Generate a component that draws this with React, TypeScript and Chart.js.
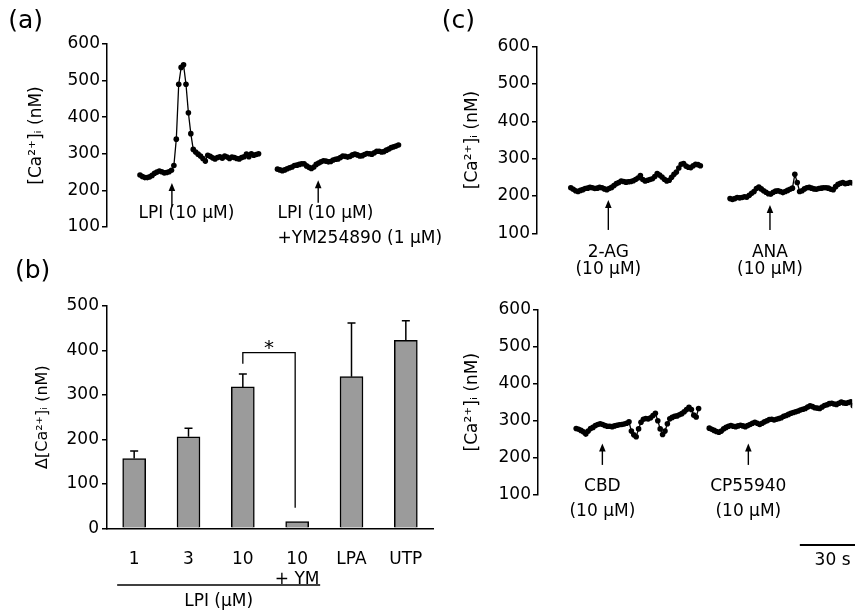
import React, { useEffect, useRef } from "react";
import { Chart, registerables } from "chart.js";

Chart.register(...registerables);

const FONT = '"DejaVu Sans", "Noto Sans", sans-serif';
const CANVAS_W = 855;
const CANVAS_H = 611;
const INK = "#000";
const BAR_FILL = "#9b9b9b";

// ---------------- data ----------------
const SAMPLE_INTERVAL_S = 1.1;
const SCALE_BAR_S = 30;
const CA_MIN = 100;
const CA_MAX = 600;
const CA_STEP = 100;
const CA_TITLE = "[Ca²⁺]ᵢ (nM)";

// (a) traces
const A_LPI_START_S = 15;
const A_LPI = [242, 238, 235, 235, 237, 241, 247, 250, 253, 251, 248, 249, 251, 255, 268, 340, 490, 536, 543, 490, 412, 355, 312, 305, 299, 294, 287, 280, 296, 293, 289, 286, 290, 292, 288, 294, 291, 287, 291, 290, 287, 286, 290, 292, 299, 292, 300, 296, 298, 300];
const A_LPI_YM_START_S = 77.5;
const A_LPI_YM = [258, 256, 254, 256, 259, 262, 264, 268, 269, 271, 273, 273, 267, 263, 260, 264, 271, 275, 278, 281, 280, 278, 279, 283, 285, 286, 290, 294, 293, 291, 293, 297, 299, 297, 294, 295, 298, 301, 300, 299, 303, 307, 307, 305, 306, 310, 313, 317, 319, 321, 324];

// (c) traces
const C_2AG_START_S = 15.5;
const C_2AG = [222, 218, 214, 212, 215, 217, 220, 221, 223, 222, 220, 221, 223, 222, 219, 217, 220, 223, 228, 233, 236, 240, 239, 237, 238, 239, 241, 244, 248, 255, 244, 240, 242, 244, 246, 252, 260, 256, 251, 245, 240, 242, 250, 258, 264, 275, 285, 287, 280, 277, 276, 281, 285, 284, 281];
const C_ANA_START_S = 88.5;
const C_ANA = [193, 191, 193, 196, 195, 196, 198, 197, 202, 207, 212, 220, 224, 219, 214, 210, 206, 205, 210, 213, 214, 212, 209, 212, 215, 218, 221, 258, 236, 212, 214, 219, 222, 223, 221, 219, 218, 220, 221, 222, 222, 221, 218, 217, 225, 231, 234, 236, 233, 234, 236, 235];
const C_CBD_START_S = 17.5;
const C_CBD = [279, 277, 274, 270, 264, 272, 279, 282, 287, 290, 292, 290, 287, 285, 285, 284, 286, 288, 289, 290, 291, 293, 297, 272, 262, 257, 278, 296, 304, 306, 305, 308, 314, 320, 300, 278, 263, 272, 292, 305, 309, 312, 313, 316, 319, 324, 330, 336, 330, 315, 310, 333];
const C_CP_START_S = 78.5;
const C_CP = [280, 277, 274, 271, 269, 272, 278, 282, 285, 287, 285, 284, 286, 288, 286, 284, 287, 290, 293, 296, 293, 290, 293, 297, 300, 303, 304, 302, 304, 306, 308, 312, 314, 317, 320, 322, 324, 326, 329, 331, 333, 337, 340, 338, 335, 334, 333, 337, 341, 343, 346, 347, 345, 344, 347, 350, 348, 347, 349, 351, 340];

// (b) bars
const B_LABELS: (string | string[])[] = ["1", "3", "10", ["10", "+ YM"], "LPA", "UTP"];
const B_MEAN = [157, 206, 318, 15, 341, 423];
const B_SEM = [17, 19, 29, 0, 121, 44];
const B_MIN = 0;
const B_MAX = 500;
const B_STEP = 50;
const B_BRACKET = { from: 2, to: 3, leftLow: 370, top: 395, rightLow: 46 };

// ---------------- helpers ----------------
type Area = { left: number; top: number; right: number; bottom: number };
type ArrowSpec = { t: number; tip: number; base: number };
type LabelSpec = { t: number; align: CanvasTextAlign; lines: string[]; dy: number[] };

function series(values: number[], start: number) {
  return values.map((v, i) => ({ x: start + i * SAMPLE_INTERVAL_S, y: v }));
}

function drawText(ctx: CanvasRenderingContext2D, s: string, x: number, y: number, size: number, align: CanvasTextAlign = "center", baseline: CanvasTextBaseline = "middle") {
  ctx.font = `${size}px ${FONT}`;
  ctx.textAlign = align;
  ctx.textBaseline = baseline;
  ctx.fillStyle = INK;
  ctx.fillText(s, x, y);
}

function drawArrow(ctx: CanvasRenderingContext2D, x: number, yTip: number, yBase: number) {
  ctx.strokeStyle = INK;
  ctx.fillStyle = INK;
  ctx.lineWidth = 1.4;
  ctx.beginPath();
  ctx.moveTo(x, yBase);
  ctx.lineTo(x, yTip + 5);
  ctx.stroke();
  ctx.beginPath();
  ctx.moveTo(x, yTip);
  ctx.lineTo(x - 3.3, yTip + 8);
  ctx.lineTo(x + 3.3, yTip + 8);
  ctx.closePath();
  ctx.fill();
}

function caAxis(axisBox: number, titlePad: number) {
  return {
    type: "linear",
    min: CA_MIN,
    max: CA_MAX,
    ticks: { stepSize: CA_STEP, color: INK, padding: 2, font: { family: FONT, size: 17 } },
    grid: { display: true, drawOnChartArea: false, drawTicks: true, tickLength: 5, color: INK, lineWidth: 1.5 },
    border: { display: true, color: INK, width: 1.5 },
    title: { display: true, text: CA_TITLE, color: INK, font: { family: FONT, size: 17 }, padding: { top: titlePad, bottom: 0 } },
    afterFit: (s: any) => {
      s.width = axisBox;
    },
  };
}

function traceConfig(opts: {
  area: Area;
  axisBox: number;
  titlePad: number;
  xMax: number;
  traces: { values: number[]; start: number }[];
  arrows: ArrowSpec[];
  labels: LabelSpec[];
  extra?: (chart: any, ctx: CanvasRenderingContext2D) => void;
}): any {
  const { area } = opts;
  return {
    type: "line",
    data: {
      datasets: opts.traces.map((tr) => ({
        data: series(tr.values, tr.start),
        borderColor: INK,
        borderWidth: 1.3,
        pointRadius: 2.8,
        pointBackgroundColor: INK,
        pointBorderWidth: 0,
        pointHoverRadius: 0,
        tension: 0,
        fill: false,
      })),
    },
    options: {
      responsive: false,
      animation: false,
      devicePixelRatio: 1,
      events: [],
      layout: { padding: { left: area.left - opts.axisBox, top: area.top, right: CANVAS_W - area.right, bottom: CANVAS_H - area.bottom } },
      plugins: { legend: { display: false }, tooltip: { enabled: false } },
      scales: {
        x: { type: "linear", min: 0, max: opts.xMax, display: false },
        y: caAxis(opts.axisBox, opts.titlePad),
      },
    },
    plugins: [
      {
        id: "traceExtras",
        afterDraw(chart: any) {
          const ctx: CanvasRenderingContext2D = chart.ctx;
          const xs = chart.scales.x;
          const ys = chart.scales.y;
          const bottom = chart.chartArea.bottom;
          ctx.save();
          opts.arrows.forEach((a) => drawArrow(ctx, xs.getPixelForValue(a.t), ys.getPixelForValue(a.tip), ys.getPixelForValue(a.base)));
          opts.labels.forEach((l) => {
            const x = xs.getPixelForValue(l.t);
            l.lines.forEach((line, i) => drawText(ctx, line, x, bottom + l.dy[i], 17, l.align));
          });
          if (opts.extra) opts.extra(chart, ctx);
          ctx.restore();
        },
      },
    ],
  };
}

function barConfig(): any {
  const area: Area = { left: 107, top: 306, right: 433, bottom: 528.3 };
  const axisBox = 90;
  const xBox = 60;
  return {
    type: "bar",
    data: {
      labels: B_LABELS,
      datasets: [
        {
          data: B_MEAN,
          backgroundColor: BAR_FILL,
          borderColor: INK,
          borderWidth: 1.5,
          barThickness: 23,
        },
      ],
    },
    options: {
      responsive: false,
      animation: false,
      devicePixelRatio: 1,
      events: [],
      layout: { padding: { left: area.left - axisBox, top: area.top, right: CANVAS_W - area.right, bottom: CANVAS_H - area.bottom - xBox } },
      plugins: { legend: { display: false }, tooltip: { enabled: false } },
      scales: {
        x: {
          type: "category",
          grid: { display: false },
          border: { display: true, color: INK, width: 1.5 },
          ticks: { color: INK, padding: 13, font: { family: FONT, size: 17 } },
          afterFit: (s: any) => {
            s.height = xBox;
          },
        },
        y: {
          type: "linear",
          min: B_MIN,
          max: B_MAX,
          ticks: {
            stepSize: B_STEP,
            color: INK,
            padding: 3,
            font: { family: FONT, size: 17 },
            callback: (v: number) => (v % 100 === 0 ? String(v) : ""),
          },
          grid: { display: true, drawOnChartArea: false, drawTicks: true, tickLength: 5, color: INK, lineWidth: 1.5 },
          border: { display: true, color: INK, width: 1.5 },
          title: { display: true, text: "Δ" + CA_TITLE, color: INK, font: { family: FONT, size: 16 }, padding: { top: 16.4, bottom: 0 } },
          afterFit: (s: any) => {
            s.width = axisBox;
          },
        },
      },
    },
    plugins: [
      {
        id: "barExtras",
        afterDraw(chart: any) {
          const ctx: CanvasRenderingContext2D = chart.ctx;
          const xs = chart.scales.x;
          const ys = chart.scales.y;
          ctx.save();
          ctx.strokeStyle = INK;
          ctx.lineWidth = 1.5;
          // error bars
          B_MEAN.forEach((m, i) => {
            const s = B_SEM[i];
            if (!s) return;
            const x = xs.getPixelForValue(i);
            const y0 = ys.getPixelForValue(m);
            const y1 = ys.getPixelForValue(m + s);
            ctx.beginPath();
            ctx.moveTo(x, y0);
            ctx.lineTo(x, y1);
            ctx.moveTo(x - 4, y1);
            ctx.lineTo(x + 4, y1);
            ctx.stroke();
          });
          // significance bracket
          const bx1 = xs.getPixelForValue(B_BRACKET.from);
          const bx2 = xs.getPixelForValue(B_BRACKET.to) - 2;
          const byTop = ys.getPixelForValue(B_BRACKET.top);
          ctx.lineWidth = 1.3;
          ctx.beginPath();
          ctx.moveTo(bx1, ys.getPixelForValue(B_BRACKET.leftLow));
          ctx.lineTo(bx1, byTop);
          ctx.lineTo(bx2, byTop);
          ctx.lineTo(bx2, ys.getPixelForValue(B_BRACKET.rightLow));
          ctx.stroke();
          drawText(ctx, "*", (bx1 + bx2) / 2, byTop + 1, 20, "center", "alphabetic");
          // group underline
          const gx1 = xs.getPixelForValue(0) - 17;
          const gx2 = xs.getPixelForValue(3) + 23;
          const gy = chart.chartArea.bottom + 56.7;
          ctx.lineWidth = 1.3;
          ctx.beginPath();
          ctx.moveTo(gx1, gy);
          ctx.lineTo(gx2, gy);
          ctx.stroke();
          drawText(ctx, "LPI (μM)", (gx1 + gx2) / 2, gy + 17, 17);
          drawText(ctx, "(b)", 15, 271.5, 25, "left");
          ctx.restore();
        },
      },
    ],
  };
}

export default function App() {
  const refA = useRef<HTMLCanvasElement>(null);
  const refB = useRef<HTMLCanvasElement>(null);
  const refC1 = useRef<HTMLCanvasElement>(null);
  const refC2 = useRef<HTMLCanvasElement>(null);

  useEffect(() => {
    const charts: Chart[] = [];
    if (refA.current) {
      charts.push(
        new Chart(
          refA.current,
          traceConfig({
            area: { left: 107, top: 44, right: 107 + 136 * 2.2, bottom: 227 },
            axisBox: 90,
            titlePad: 9.8,
            xMax: 136,
            traces: [
              { values: A_LPI, start: A_LPI_START_S },
              { values: A_LPI_YM, start: A_LPI_YM_START_S },
            ],
            arrows: [
              { t: 29.5, tip: 220, base: 155 },
              { t: 96, tip: 228, base: 166 },
            ],
            labels: [
              { t: 36.1, align: "center", lines: ["LPI (10 μM)"], dy: [-13.5] },
              { t: A_LPI_YM_START_S, align: "left", lines: ["LPI (10 μM)", "+YM254890 (1 μM)"], dy: [-13.5, 11.5] },
            ],
            extra: (_c, ctx) => {
              drawText(ctx, "(a)", 8.3, 21.5, 25, "left");
            },
          })
        )
      );
    }
    if (refB.current) charts.push(new Chart(refB.current, barConfig()));
    if (refC1.current) {
      charts.push(
        new Chart(
          refC1.current,
          traceConfig({
            area: { left: 537, top: 46.7, right: 537 + 144.5 * 2.2, bottom: 233.3 },
            axisBox: 90,
            titlePad: 15.3,
            xMax: 144.5,
            traces: [
              { values: C_2AG, start: C_2AG_START_S },
              { values: C_ANA, start: C_ANA_START_S },
            ],
            arrows: [
              { t: 32.7, tip: 189, base: 109 },
              { t: 106.8, tip: 176, base: 109 },
            ],
            labels: [
              { t: 32.7, align: "center", lines: ["2-AG", "(10 μM)"], dy: [18.9, 36.2] },
              { t: 106.8, align: "center", lines: ["ANA", "(10 μM)"], dy: [18.9, 36.2] },
            ],
            extra: (_c, ctx) => {
              drawText(ctx, "(c)", 441.7, 21.5, 25, "left");
            },
          })
        )
      );
    }
    if (refC2.current) {
      charts.push(
        new Chart(
          refC2.current,
          traceConfig({
            area: { left: 538, top: 309.3, right: 538 + 144 * 2.2, bottom: 495 },
            axisBox: 90,
            titlePad: 14.3,
            xMax: 144,
            traces: [
              { values: C_CBD, start: C_CBD_START_S },
              { values: C_CP, start: C_CP_START_S },
            ],
            arrows: [
              { t: 29.5, tip: 239, base: 181 },
              { t: 96.4, tip: 239, base: 181 },
            ],
            labels: [
              { t: 29.5, align: "center", lines: ["CBD", "(10 μM)"], dy: [-8.5, 16.5] },
              { t: 96.4, align: "center", lines: ["CP55940", "(10 μM)"], dy: [-8.5, 16.5] },
            ],
            extra: (chart, ctx) => {
              const xs = chart.scales.x;
              const y = chart.chartArea.bottom + 50;
              const x1 = xs.getPixelForValue(120);
              const x2 = xs.getPixelForValue(120 + SCALE_BAR_S);
              ctx.strokeStyle = INK;
              ctx.lineWidth = 2;
              ctx.beginPath();
              ctx.moveTo(x1, y);
              ctx.lineTo(x2, y);
              ctx.stroke();
              drawText(ctx, "30 s", (x1 + x2) / 2, y + 15.5, 17);
            },
          })
        )
      );
    }
    return () => charts.forEach((c) => c.destroy());
  }, []);

  const cs: React.CSSProperties = { position: "absolute", left: 0, top: 0, width: CANVAS_W, height: CANVAS_H };
  return (
    <div style={{ position: "fixed", left: 0, top: 0, width: CANVAS_W, height: CANVAS_H, background: "#fff", overflow: "hidden" }}>
      <canvas ref={refA} width={CANVAS_W} height={CANVAS_H} style={cs} />
      <canvas ref={refB} width={CANVAS_W} height={CANVAS_H} style={cs} />
      <canvas ref={refC1} width={CANVAS_W} height={CANVAS_H} style={cs} />
      <canvas ref={refC2} width={CANVAS_W} height={CANVAS_H} style={cs} />
    </div>
  );
}
